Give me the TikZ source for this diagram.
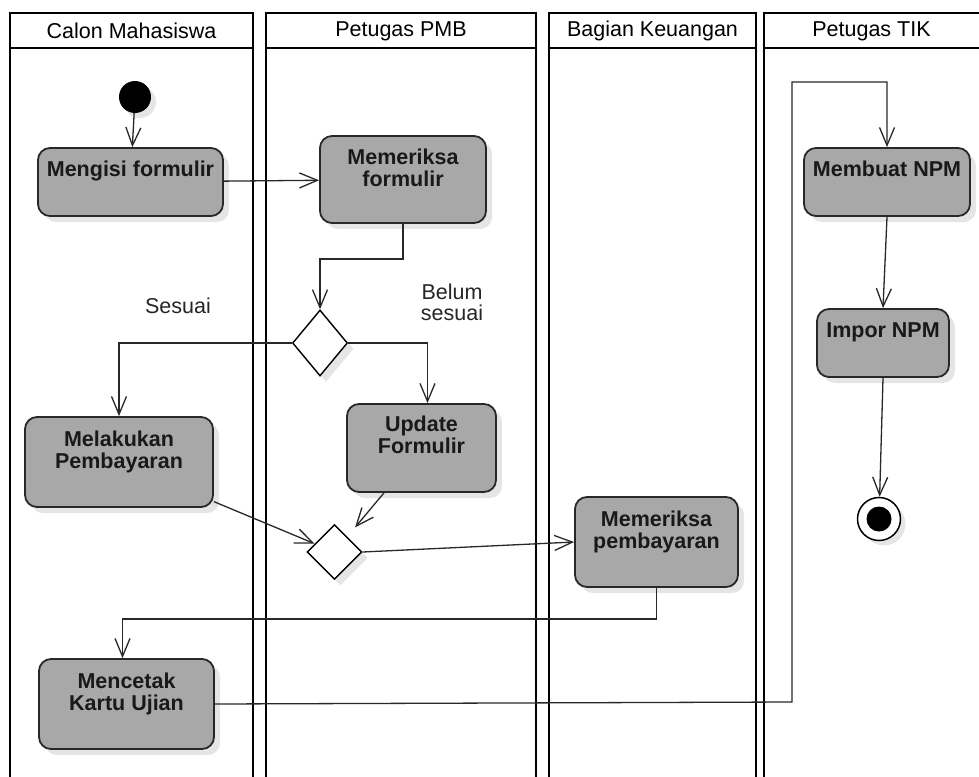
\documentclass[tikz,border=0pt]{standalone}
\usepackage{fontspec}
\setmainfont{Liberation Sans}
\usetikzlibrary{arrows.meta,shapes.geometric,shadows,calc}
\definecolor{actgray}{RGB}{168,168,168}
\definecolor{edgegray}{RGB}{40,40,40}
\begin{document}
\begin{tikzpicture}[x=1pt,y=-1pt,
  lane/.style={draw=black,line width=2.7pt},
  lanehead/.style={font=\fontsize{21.5}{23}\selectfont,inner sep=0pt},
  act/.style={draw=edgegray,line width=1.8pt,fill=actgray,rounded corners=12pt,inner sep=0pt,
    drop shadow={shadow xshift=6pt,shadow yshift=-6pt,opacity=0.10,fill=black}},
  acttext/.style={anchor=north,align=center,font=\bfseries\fontsize{21.5}{22}\selectfont,inner sep=0pt,text=black!90},
  decision/.style={diamond,draw=black,line width=1.4pt,fill=white,inner sep=0pt,
    drop shadow={shadow xshift=6pt,shadow yshift=-6pt,opacity=0.10,fill=black}},
  lbl/.style={font=\fontsize{21.5}{21}\selectfont,inner sep=0pt,align=center,text=black!85},
  arr/.style={draw=edgegray,line width=1.3pt,-{Straight Barb[length=18pt,width=15pt]}},
  flow/.style={draw=edgegray,line width=1.3pt}
]
\useasboundingbox (0,0) rectangle (979,776);
\clip (0,0) rectangle (979,776);
\fill[white] (0,0) rectangle (979,776);

% swimlanes
\draw[lane] (10,13) rectangle (253,800);
\draw[lane] (10,48) -- (253,48);
\draw[lane] (266,13) rectangle (536,800);
\draw[lane] (266,48) -- (536,48);
\draw[lane] (549,13) rectangle (756,800);
\draw[lane] (549,48) -- (756,48);
\draw[lane] (764,13) rectangle (1000,800);
\draw[lane] (764,48) -- (1000,48);
\node[lanehead] (h1) at (131.5,31) {Calon Mahasiswa};
\node[lanehead] (h2) at (401,31) {Petugas PMB};
\node[lanehead] (h3) at (652.5,31) {Bagian Keuangan};
\node[lanehead] (h4) at (871.5,31) {Petugas TIK};

% start / end
\node[circle,fill=black,minimum size=32pt,inner sep=0pt,
  drop shadow={shadow xshift=5pt,shadow yshift=-5pt,opacity=0.10,fill=black}] (start) at (135,97) {};
\node[circle,draw=black,line width=1.5pt,fill=white,minimum size=43pt,inner sep=0pt,
  drop shadow={shadow xshift=5pt,shadow yshift=-5pt,opacity=0.10,fill=black}] (end) at (879,519) {};
\node[circle,fill=black,minimum size=25pt,inner sep=0pt] (endin) at (end) {};

% activities
\node[act,minimum width=185pt,minimum height=68pt] (a1) at (130.5,182) {};
\node[acttext] (t1) at ($(a1.north)+(0,14)$) {Mengisi formulir};
\node[act,minimum width=166pt,minimum height=87pt] (a2) at (403,179.5) {};
\node[acttext] (t2) at ($(a2.north)+(0,14)$) {Memeriksa\\formulir};
\node[act,minimum width=188pt,minimum height=90pt] (a3) at (119,462) {};
\node[acttext] (t3) at ($(a3.north)+(0,15)$) {Melakukan\\Pembayaran};
\node[act,minimum width=149pt,minimum height=88pt] (a4) at (421.5,448) {};
\node[acttext] (t4) at ($(a4.north)+(0,13)$) {Update\\Formulir};
\node[act,minimum width=163pt,minimum height=90pt] (a5) at (656.5,542) {};
\node[acttext] (t5) at ($(a5.north)+(0,15)$) {Memeriksa\\pembayaran};
\node[act,minimum width=175pt,minimum height=90pt] (a6) at (126.5,704) {};
\node[acttext] (t6) at ($(a6.north)+(0,15)$) {Mencetak\\Kartu Ujian};
\node[act,minimum width=166pt,minimum height=68pt] (a7) at (887,182) {};
\node[acttext] (t7) at ($(a7.north)+(0,14)$) {Membuat NPM};
\node[act,minimum width=132pt,minimum height=68pt] (a8) at (883,343) {};
\node[acttext] (t8) at ($(a8.north)+(0,14)$) {Impor NPM};

% decisions
\node[decision,minimum width=55pt,minimum height=66pt] (d1) at (320,343) {};
\node[decision,minimum width=55pt,minimum height=55pt] (d2) at (334.5,552) {};

% labels
\node[lbl] (l1) at (178,306) {Sesuai};
\node[lbl] (l2) at (452,302) {Belum\\sesuai};

% coordinates for routed connectors
\coordinate (c1) at (792,702);
\coordinate (c2) at (792,82);

% connectors
\draw[arr] (start) -- (a1);
\draw[arr] (a1) -- (a2);
\draw[arr] (a2.south) -- ++(0,35) -| (d1.north);
\draw[arr] (d1.west) -| (a3.north);
\draw[arr] (d1.east) -| ($(a4.north)+(6,0)$);
\draw[arr] (a3) -- (d2);
\draw[arr,shorten >=12pt] (a4) -- (d2);
\draw[arr] (d2.east) -- (a5.west);
\draw[arr] (a5.south) -- ++(0,31) -| ($(a6.north)+(-4,0)$);
\draw[arr] (a6.east) -- (c1) -- (c2) -| (a7.north);
\draw[arr] (a7.south) -- (a8.north);
\draw[arr] (a8.south) -- (end);
\end{tikzpicture}
\end{document}
